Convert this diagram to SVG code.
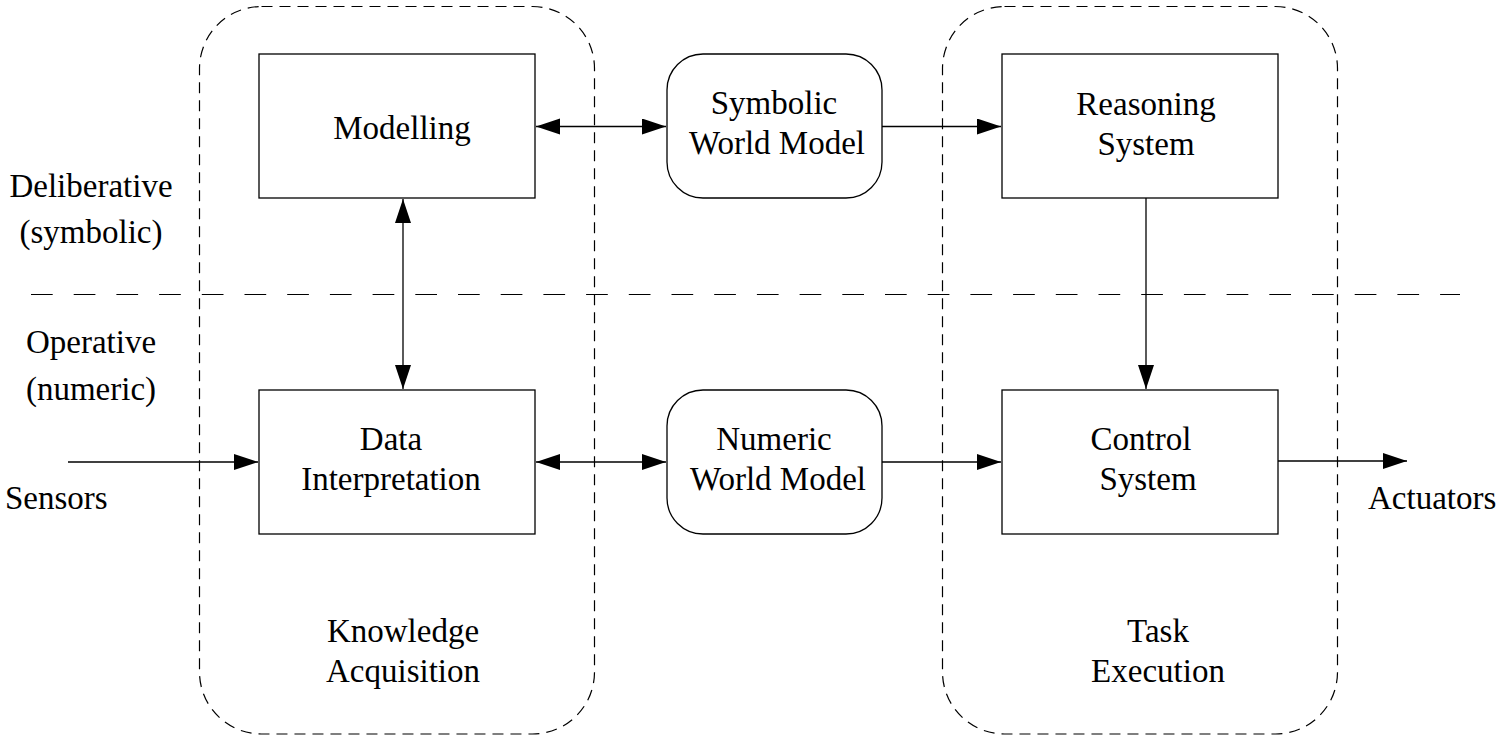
<svg xmlns="http://www.w3.org/2000/svg" width="1501" height="743" viewBox="0 0 1501 743">
  <style>
    .t { font-family: 'Liberation Serif', 'DejaVu Serif', serif; font-size: 33px; fill: #000; text-anchor: middle; }
    .box { fill: #fff; stroke: #000; stroke-width: 1.3; }
    .cont { fill: none; stroke: #000; stroke-width: 1.2; stroke-dasharray: 11 7; }
    .sep { fill: none; stroke: #000; stroke-width: 1.2; stroke-dasharray: 21.7 21; }
    .conn { fill: none; stroke: #000; stroke-width: 1.3; }
  </style>
  <defs>
    <marker id="ah" markerUnits="userSpaceOnUse" markerWidth="26" markerHeight="18" refX="24" refY="8" orient="auto-start-reverse">
      <path d="M0,0 L24,8 L0,16 z" fill="#000"/>
    </marker>
  </defs>
  <rect width="1501" height="743" fill="#fff"/>

  <g id="containers">
    <rect id="knowledge-acquisition" class="cont" x="199.5" y="6.5" width="395" height="727.5" rx="62" ry="62"/>
    <rect id="task-execution" class="cont" x="942.5" y="6.5" width="395" height="727.5" rx="62" ry="62"/>
  </g>

  <line id="separator" class="sep" x1="31" y1="294.5" x2="1460" y2="294.5"/>

  <g id="labels">
    <text class="t" x="91" y="197">Deliberative</text>
    <text class="t" x="91" y="243">(symbolic)</text>
    <text class="t" x="91" y="353">Operative</text>
    <text class="t" x="91" y="400">(numeric)</text>
    <text class="t" x="5" y="509" style="text-anchor:start">Sensors</text>
    <text class="t" x="1368" y="509" style="text-anchor:start">Actuators</text>
    <text class="t" x="403" y="642">Knowledge</text>
    <text class="t" x="403" y="682">Acquisition</text>
    <text class="t" x="1158" y="642">Task</text>
    <text class="t" x="1158" y="682">Execution</text>
  </g>

  <g id="connectors">
    <line class="conn" x1="536" y1="126.5" x2="666" y2="126.5" marker-start="url(#ah)" marker-end="url(#ah)"/>
    <line class="conn" x1="882" y1="126.5" x2="1001" y2="126.5" marker-end="url(#ah)"/>
    <line class="conn" x1="403" y1="199" x2="403" y2="389" marker-start="url(#ah)" marker-end="url(#ah)"/>
    <line class="conn" x1="1146" y1="198" x2="1146" y2="389" marker-end="url(#ah)"/>
    <line class="conn" x1="68" y1="462" x2="258" y2="462" marker-end="url(#ah)"/>
    <line class="conn" x1="536" y1="462" x2="666" y2="462" marker-start="url(#ah)" marker-end="url(#ah)"/>
    <line class="conn" x1="882" y1="462" x2="1001" y2="462" marker-end="url(#ah)"/>
    <line class="conn" x1="1278" y1="461" x2="1407" y2="461" marker-end="url(#ah)"/>
  </g>

  <g id="modelling">
    <rect class="box" x="259" y="54" width="276" height="144"/>
    <text class="t" x="402" y="139">Modelling</text>
  </g>
  <g id="symbolic-world-model">
    <rect class="box" x="667" y="54" width="215" height="144" rx="36" ry="36"/>
    <text class="t" x="774" y="114">Symbolic</text>
    <text class="t" x="777" y="154">World Model</text>
  </g>
  <g id="reasoning-system">
    <rect class="box" x="1002" y="54" width="276" height="144"/>
    <text class="t" x="1146" y="115">Reasoning</text>
    <text class="t" x="1146" y="155">System</text>
  </g>
  <g id="data-interpretation">
    <rect class="box" x="259" y="390" width="276" height="144"/>
    <text class="t" x="391" y="450">Data</text>
    <text class="t" x="391" y="490">Interpretation</text>
  </g>
  <g id="numeric-world-model">
    <rect class="box" x="667" y="390" width="215" height="144" rx="36" ry="36"/>
    <text class="t" x="774" y="450">Numeric</text>
    <text class="t" x="778" y="490">World Model</text>
  </g>
  <g id="control-system">
    <rect class="box" x="1002" y="390" width="276" height="144"/>
    <text class="t" x="1141" y="450">Control</text>
    <text class="t" x="1148" y="490">System</text>
  </g>
</svg>
